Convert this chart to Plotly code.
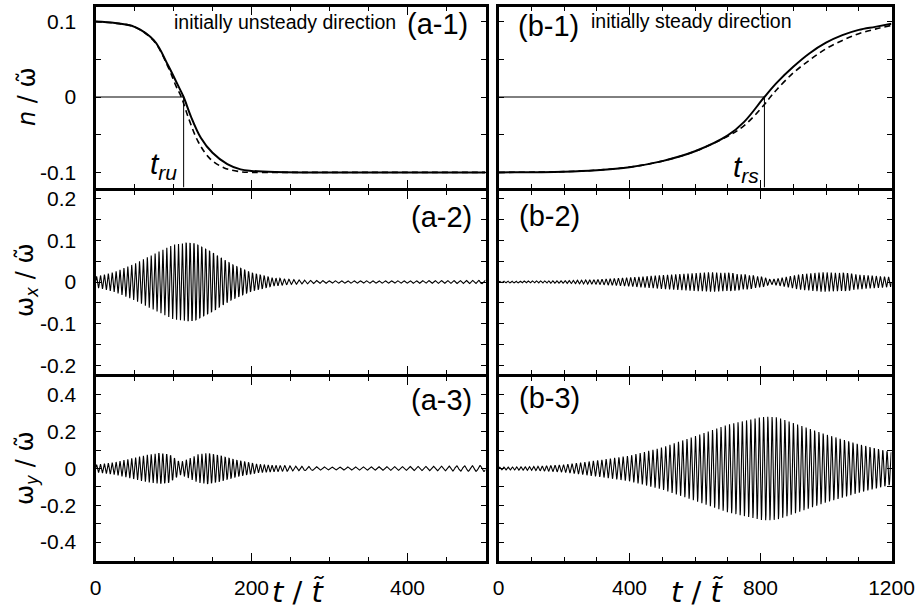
import numpy as np
import plotly.graph_objects as go
from plotly.subplots import make_subplots

# ---------------- data ----------------
# (a-1) n/w~ vs t, left column (0..500)
a1_t = [0, 25, 50, 75, 93, 105, 113, 122, 135, 150, 169, 186, 200, 230, 270, 350, 500]
a1_solid = [0.100, 0.098, 0.093, 0.075, 0.042, 0.017, 0.0, -0.025, -0.054, -0.074,
            -0.089, -0.096, -0.098, -0.0995, -0.100, -0.100, -0.100]
a1_td = [0, 25, 50, 75, 93, 103, 110, 120, 132, 147, 165, 185, 200, 230, 270, 350, 500]
a1_dash = [0.100, 0.098, 0.093, 0.074, 0.040, 0.015, 0.0, -0.030, -0.060, -0.082,
           -0.094, -0.099, -0.100, -0.100, -0.100, -0.100, -0.100]
t_ru = 113

# (b-1) right column (0..1200)
b1_t = [0, 200, 300, 400, 500, 600, 700, 750, 812, 850, 900, 950, 1000, 1050, 1100, 1150, 1200]
b1_solid = [-0.100, -0.099, -0.097, -0.093, -0.085, -0.072, -0.051, -0.033, 0.0, 0.019,
            0.040, 0.058, 0.072, 0.082, 0.089, 0.093, 0.097]
b1_td = [0, 200, 300, 400, 500, 600, 700, 750, 812, 830, 850, 900, 950, 1000, 1050, 1100, 1150, 1200]
b1_dash = [-0.100, -0.099, -0.097, -0.093, -0.085, -0.072, -0.052, -0.038, -0.010, 0.0,
           0.010, 0.032, 0.049, 0.064, 0.075, 0.084, 0.090, 0.095]
t_rs = 812

# oscillation envelopes (amplitude read at knots) and apparent carrier periods
a2_t = [0, 25, 50, 75, 100, 115, 128, 150, 175, 200, 225, 250, 275, 300, 400, 500]
a2_amp = [0.013, 0.025, 0.045, 0.069, 0.092, 0.096, 0.094, 0.072, 0.043, 0.022,
          0.011, 0.006, 0.004, 0.003, 0.003, 0.004]
a2_period_t = [0, 230, 280, 500]
a2_period = [5.0, 5.0, 8.0, 8.0]

a3_t = [0, 25, 50, 65, 80, 95, 108, 120, 132, 142, 160, 182, 204, 229, 255, 300, 400, 500]
a3_amp = [0.020, 0.035, 0.060, 0.075, 0.084, 0.076, 0.035, 0.055, 0.080, 0.085,
          0.070, 0.044, 0.026, 0.018, 0.013, 0.008, 0.011, 0.016]
a3_period_t = [0, 230, 280, 500]
a3_period = [5.0, 5.0, 10.0, 10.0]

b2_t = [0, 100, 200, 300, 400, 500, 600, 650, 700, 750, 800, 830, 870, 920, 990, 1050, 1100, 1200]
b2_amp = [0.002, 0.0025, 0.003, 0.006, 0.011, 0.017, 0.022, 0.024, 0.022, 0.018,
          0.013, 0.006, 0.011, 0.019, 0.024, 0.022, 0.018, 0.012]
b2_period_t = [0, 1200]
b2_period = [12.5, 12.5]

b3_t = [0, 100, 200, 300, 400, 500, 600, 700, 800, 820, 850, 900, 1000, 1100, 1200]
b3_amp = [0.007, 0.010, 0.021, 0.044, 0.070, 0.115, 0.176, 0.238, 0.279, 0.282,
          0.278, 0.247, 0.185, 0.132, 0.088]
b3_period_t = [0, 1200]
b3_period = [13.0, 13.0]

# tick labels
x_left_ticks = [0, 200, 400]
x_right_ticks = [0, 400, 800, 1200]
y1_ticks = [-0.1, 0, 0.1]
y1_text = ["-0.1", "0", "0.1"]
y2_ticks = [-0.2, -0.1, 0, 0.1, 0.2]
y2_text = ["-0.2", "-0.1", "0", "0.1", "0.2"]
y3_ticks = [-0.4, -0.2, 0, 0.2, 0.4]
y3_text = ["-0.4", "-0.2", "0", "0.2", "0.4"]


def oscillation(tk, ak, pt, pv, tmax):
    n = int(np.ceil(tmax / (min(pv) / 14.0)))
    t = np.linspace(0, tmax, n + 1)
    step = t[1] - t[0]
    env = np.interp(t, tk, ak)
    per = np.interp(t, pt, pv)
    phase = 2 * np.pi * np.concatenate([[0], np.cumsum(step / per[:-1])])
    return t, env * np.sin(phase)


W, H = 921, 613
FONT = "Liberation Sans"
TFONT = "DejaVu Sans"

fig = make_subplots(rows=3, cols=2)

solid = dict(color="black", width=2)
dash = dict(color="black", width=1.6, dash="6px,4px")
thin = dict(color="black", width=1)
osc_line = dict(color="black", width=1.1)

fig.add_trace(go.Scatter(x=a1_td, y=a1_dash, mode="lines", line=dash, line_shape="spline"), row=1, col=1)
fig.add_trace(go.Scatter(x=a1_t, y=a1_solid, mode="lines", line=solid, line_shape="spline"), row=1, col=1)
fig.add_trace(go.Scatter(x=b1_td, y=b1_dash, mode="lines", line=dash, line_shape="spline"), row=1, col=2)
fig.add_trace(go.Scatter(x=b1_t, y=b1_solid, mode="lines", line=solid, line_shape="spline"), row=1, col=2)

for (tk, ak, pt, pv, tmax, r, c) in [
    (a2_t, a2_amp, a2_period_t, a2_period, 500, 2, 1),
    (b2_t, b2_amp, b2_period_t, b2_period, 1200, 2, 2),
    (a3_t, a3_amp, a3_period_t, a3_period, 500, 3, 1),
    (b3_t, b3_amp, b3_period_t, b3_period, 1200, 3, 2),
]:
    t, y = oscillation(tk, ak, pt, pv, tmax)
    fig.add_trace(go.Scatter(x=t, y=y, mode="lines", line=osc_line), row=r, col=c)

# reference lines marking t_ru and t_rs
for xref, yref, tc in [("x", "y", t_ru), ("x2", "y2", t_rs)]:
    fig.add_shape(type="line", xref=xref, yref=yref, x0=0, x1=tc, y0=0, y1=0, line=thin)
    fig.add_shape(type="line", xref=xref, yref=yref, x0=tc, x1=tc, y0=0, y1=-0.12, line=thin)

LW = 3
h = LW / 2.0
xl = [(94 + h) / W, (487 - h) / W]
xr = [(497 + h) / W, (893 - h) / W]
# panel borders in px from top: 5, 189, 375, 562 ; shared borders overlap exactly
yd = [[1 - (189 - h) / H, 1 - (5 + h) / H],
      [1 - (375 - h) / H, 1 - (189 + h) / H],
      [1 - (562 - h) / H, 1 - (375 + h) / H]]

base = dict(showline=True, linewidth=LW, linecolor="black", mirror="ticks", ticks="inside",
            tickcolor="black", tickwidth=1, showgrid=False, zeroline=False, automargin=False,
            tickfont=dict(family=FONT, size=21, color="black"))

layout = {}
for row in range(3):
    for col in range(2):
        idx = row * 2 + col + 1
        key = "" if idx == 1 else str(idx)
        left = col == 0
        xa = dict(base)
        xa.update(domain=xl if left else xr,
                  range=[0, 500] if left else [0, 1200],
                  tickvals=x_left_ticks if left else x_right_ticks,
                  ticktext=[str(v) for v in (x_left_ticks if left else x_right_ticks)],
                  ticklen=8,
                  minor=dict(ticks="inside", ticklen=4, dtick=50 if left else 100, tick0=0,
                             tickcolor="black", tickwidth=1),
                  showticklabels=(row == 2), ticklabelstandoff=6)
        ya = dict(base)
        yt, ytx, yr, ymd = [(y1_ticks, y1_text, [-0.12, 0.12], 0.05),
                            (y2_ticks, y2_text, [-0.22, 0.22], 0.05),
                            (y3_ticks, y3_text, [-0.5, 0.5], 0.1)][row]
        ya.update(domain=yd[row], range=yr, tickvals=yt, ticktext=ytx, ticklen=5,
                  minor=dict(ticks="inside", ticklen=5, dtick=ymd, tick0=0,
                             tickcolor="black", tickwidth=1),
                  showticklabels=left, ticklabelstandoff=12)
        layout["xaxis" + key] = xa
        layout["yaxis" + key] = ya

fig.update_layout(**layout)


def ann(text, px, py, size, family=FONT, **kw):
    fig.add_annotation(text=text, x=px / W, y=1 - py / H, xref="paper", yref="paper",
                       showarrow=False, xanchor="center", yanchor="middle",
                       font=dict(family=family, size=size, color="black"), **kw)


ann("initially unsteady direction", 285, 22, 19.5)
ann("initially steady direction", 691, 21, 19.5)
ann("(a-1)", 437, 24, 29)
ann("(b-1)", 548, 26, 29)
ann("(a-2)", 441, 217, 29)
ann("(b-2)", 549, 216, 29)
ann("(a-3)", 441, 400, 29)
ann("(b-3)", 549, 398, 29)
ann("<i>t</i><sub><i>ru</i></sub>", 163, 166, 30)
ann("<i>t</i><sub><i>rs</i></sub>", 746, 168, 30)
ann("<i>t</i> / <i>t\u0303</i>", 298, 592, 29, family=TFONT)
ann("<i>t</i> / <i>t\u0303</i>", 697, 592, 29, family=TFONT)
ann("<i>n</i> / \u03c9\u0303", 27, 97, 24, family=TFONT, textangle=-90)
ann("\u03c9<sub><i>x</i></sub> / \u03c9\u0303", 27, 280, 24, family=TFONT, textangle=-90)
ann("\u03c9<sub><i>y</i></sub> / \u03c9\u0303", 27, 468, 24, family=TFONT, textangle=-90)

fig.update_layout(width=W, height=H, autosize=False, margin=dict(l=0, r=0, t=0, b=0, pad=0),
                  paper_bgcolor="white", plot_bgcolor="white", showlegend=False)

fig.write_html("out.html", config={"responsive": False})
